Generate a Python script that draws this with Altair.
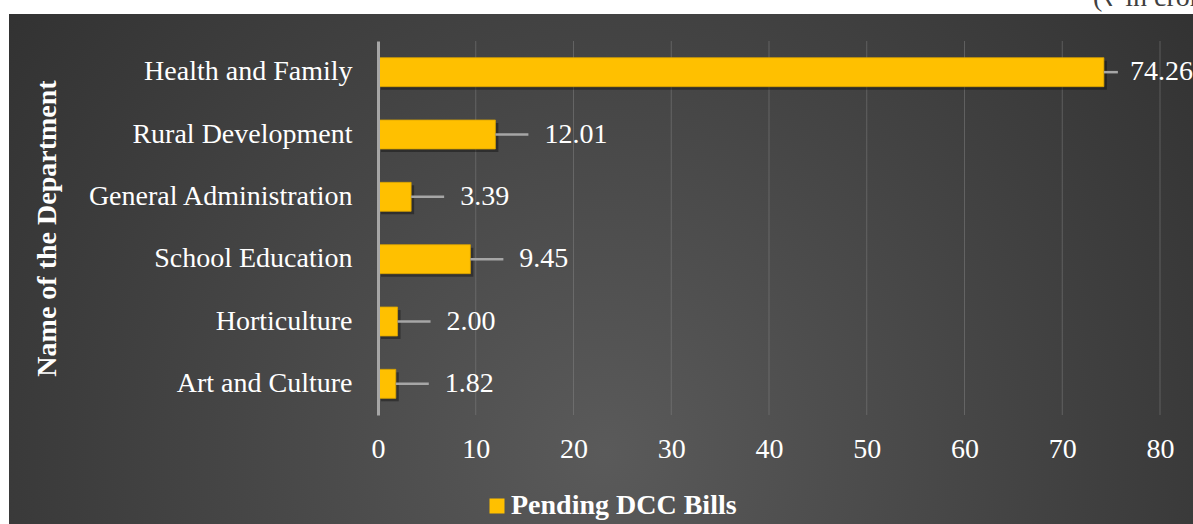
import altair as alt
import pandas as pd

departments = ["Health and Family", "Rural Development", "General Administration",
               "School Education", "Horticulture", "Art and Culture"]
pending_bills = [74.26, 12.01, 3.39, 9.45, 2.00, 1.82]
series_name = "Pending DCC Bills"
x_ticks = [0, 10, 20, 30, 40, 50, 60, 70, 80]

FONT = "Times New Roman, Liberation Serif, serif"
FS = 28
W, H = 782, 374
PL, PT = 378, 41

df = pd.DataFrame({"dept": departments, "value": pending_bills,
                   "series": [series_name] * len(departments)})

bg_grad = alt.RadialGradient(
    gradient="radial",
    stops=[alt.GradientStop(color="#5a5a5a", offset=0),
           alt.GradientStop(color="#444444", offset=0.45),
           alt.GradientStop(color="#2a2a2a", offset=1)],
    x1=0.5, y1=0.65, r1=0, x2=0.5, y2=0.65, r2=0.75,
)

bg = alt.Chart(pd.DataFrame({"a": [0]})).mark_rect(fill=bg_grad).encode(
    x=alt.value(9 - PL), x2=alt.value(1193 - PL + 10),
    y=alt.value(14 - PT), y2=alt.value(524 - PT + 10),
)

unit_note = alt.Chart(pd.DataFrame({"t": ["(₹ in crore)"]})).mark_text(
    font=FONT, fontSize=FS, color="#404040", align="left", baseline="alphabetic"
).encode(x=alt.value(1093 - PL), y=alt.value(6 - PT), text="t:N")

base = alt.Chart(df)

x_scale = alt.Scale(domain=[0, 80], nice=False)
x_axis = alt.Axis(title=None, values=x_ticks, labelFont=FONT, labelFontSize=FS,
                  labelColor="white", labelPadding=20, labelFlush=False, domain=False,
                  ticks=False, tickSize=0, grid=False, zindex=1)

grid = alt.Chart(pd.DataFrame({"tick": x_ticks[1:]})).mark_rule(
    color="#8a8a8a", opacity=0.45, strokeWidth=1
).encode(x=alt.X("tick:Q", scale=x_scale, axis=x_axis), y=alt.value(0), y2=alt.value(H))

y_enc = alt.Y("dept:N", sort=None,
              scale=alt.Scale(paddingInner=0.535, paddingOuter=0.2675),
              axis=alt.Axis(title="Name of the Department", titleFont=FONT,
                            titleFontSize=FS, titleFontWeight="bold", titleColor="white",
                            titleAngle=-90, titleX=47 - PL, titleY=H / 2,
                            titleAlign="center", titleBaseline="middle",
                            labelFont=FONT, labelFontSize=FS, labelColor="white",
                            labelPadding=26, labelLimit=400, ticks=False, tickSize=0,
                            domainColor="#a6a6a6", domainWidth=3, grid=False, zindex=1))

x_enc = alt.X("value:Q", scale=x_scale, axis=x_axis)

shadow = base.mark_bar(color="black", opacity=0.35, xOffset=3, x2Offset=3,
                       yOffset=3, y2Offset=3).encode(x=x_enc, y=y_enc)

bars = base.mark_bar(stroke="#d9a300", strokeWidth=0.8).encode(
    x=x_enc, y=y_enc,
    color=alt.Color("series:N", scale=alt.Scale(range=["#FFC000"]),
                    legend=alt.Legend(title=None, orient="none", legendX=105, legendY=451,
                                      symbolType="square", symbolSize=225,
                                      symbolStrokeWidth=0, labelFont=FONT,
                                      labelFontSize=FS, labelFontWeight="bold",
                                      labelColor="white", labelOffset=0, padding=0,
                                      labelLimit=500, zindex=1)),
)

leaders_small = base.transform_filter("datum.value < 50").mark_rule(
    color="#a6a6a6", strokeWidth=2.5, x2Offset=33
).encode(x="value:Q", x2="value:Q", y=alt.Y("dept:N", sort=None))

leaders_big = base.transform_filter("datum.value >= 50").mark_rule(
    color="#a6a6a6", strokeWidth=2.5, x2Offset=14
).encode(x="value:Q", x2="value:Q", y=alt.Y("dept:N", sort=None))

labels_small = base.transform_filter("datum.value < 50").mark_text(
    font=FONT, fontSize=FS, color="white", align="left", baseline="middle", dx=49
).encode(x="value:Q", y=alt.Y("dept:N", sort=None), text=alt.Text("value:Q", format=".2f"))

labels_big = base.transform_filter("datum.value >= 50").mark_text(
    font=FONT, fontSize=FS, color="white", align="left", baseline="middle", dx=26
).encode(x="value:Q", y=alt.Y("dept:N", sort=None), text=alt.Text("value:Q", format=".2f"))

chart = alt.layer(bg, unit_note, grid, shadow, bars, leaders_small, leaders_big,
                  labels_small, labels_big).properties(
    width=W, height=H,
    autosize=alt.AutoSizeParams(type="none"),
    padding={"left": PL, "top": PT, "right": 1193 - PL - W, "bottom": 524 - PT - H},
    background="white",
).configure_view(stroke=None)

chart.save("out.html", embed_options={"renderer": "svg", "actions": False})
